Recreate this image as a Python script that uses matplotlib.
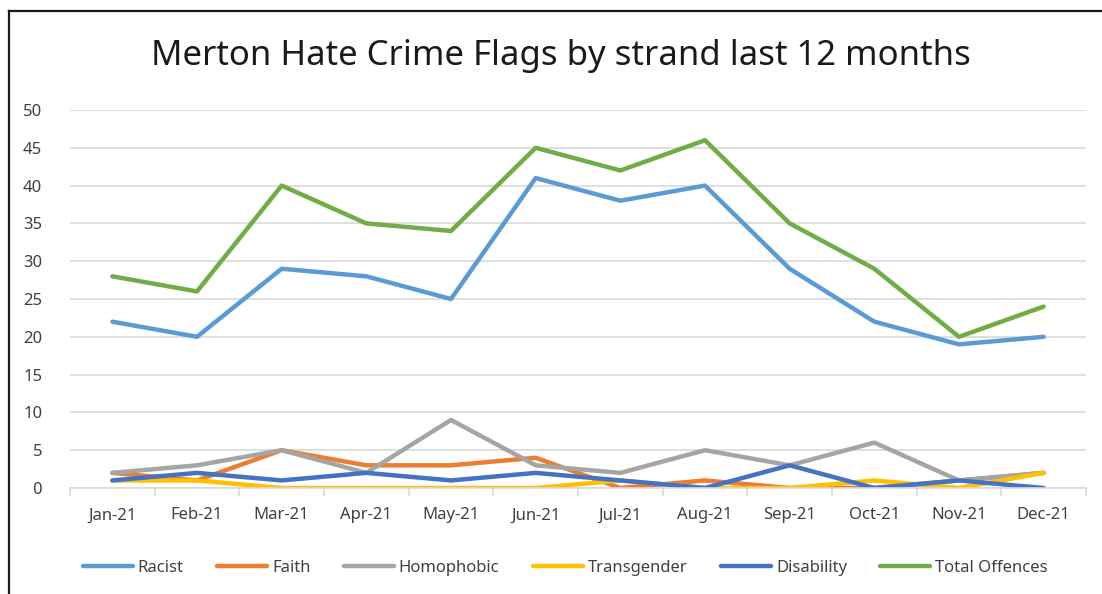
import matplotlib.pyplot as plt
from matplotlib.lines import Line2D

months = ['Jan-21', 'Feb-21', 'Mar-21', 'Apr-21', 'May-21', 'Jun-21',
          'Jul-21', 'Aug-21', 'Sep-21', 'Oct-21', 'Nov-21', 'Dec-21']
racist = [22, 20, 29, 28, 25, 41, 38, 40, 29, 22, 19, 20]
faith = [2, 1, 5, 3, 3, 4, 0, 1, 0, 0, 1, 2]
homophobic = [2, 3, 5, 2, 9, 3, 2, 5, 3, 6, 1, 2]
transgender = [1, 1, 0, 0, 0, 0, 1, 0, 0, 1, 0, 2]
disability = [1, 2, 1, 2, 1, 2, 1, 0, 3, 0, 1, 0]
total = [28, 26, 40, 35, 34, 45, 42, 46, 35, 29, 20, 24]

plt.rcParams['font.family'] = ['Noto Sans', 'DejaVu Sans']

fig = plt.figure(figsize=(11.02, 5.94), dpi=100)
ax = fig.add_axes([70 / 1102, 106 / 594, 1016 / 1102, 378 / 594])

x = range(len(months))
lw = 3.2
ax.plot(x, racist, color='#5b9bd5', lw=lw, label='Racist', solid_capstyle='round')
ax.plot(x, faith, color='#ed7d31', lw=lw, label='Faith', solid_capstyle='round')
ax.plot(x, homophobic, color='#a5a5a5', lw=lw, label='Homophobic', solid_capstyle='round')
ax.plot(x, transgender, color='#ffc000', lw=lw, label='Transgender', solid_capstyle='round')
ax.plot(x, disability, color='#4472c4', lw=lw, label='Disability', solid_capstyle='round')
ax.plot(x, total, color='#70ad47', lw=lw, label='Total Offences', solid_capstyle='round')

ax.set_xlim(-0.5, 11.5)
ax.set_ylim(0, 50)
ax.set_yticks(range(0, 51, 5))
ax.set_xticks(list(x))
ax.set_xticklabels(months)
ax.grid(axis='y', color='#d9d9d9', lw=1.2)
ax.set_axisbelow(True)
for s in ['top', 'right', 'left']:
    ax.spines[s].set_visible(False)
ax.spines['bottom'].set_color('#d9d9d9')
ax.spines['bottom'].set_linewidth(1.2)
ax.tick_params(axis='y', length=0, labelsize=12, colors='#404040', pad=20)
ax.tick_params(axis='x', which='major', length=0, labelsize=12, labelcolor='#404040', pad=14)
ax.set_xticks([i + 0.5 for i in range(-1, 12)], minor=True)
ax.tick_params(axis='x', which='minor', length=6, width=1.2, color='#d9d9d9')

fig.text(0.509, 0.905, 'Merton Hate Crime Flags by strand last 12 months',
         ha='center', va='center', fontsize=25, color='#1a1a1a')

fig.legend(loc='center', bbox_to_anchor=(0.513, 0.044), ncol=6, frameon=False,
           fontsize=12, handlelength=3.0, handletextpad=0.3, columnspacing=2.0,
           labelcolor='#404040')

fig.add_artist(Line2D([9 / 1102, 9 / 1102], [0, 583 / 594], transform=fig.transFigure,
                      color='#1a1a1a', lw=1.6))
fig.add_artist(Line2D([9 / 1102, 1], [583 / 594, 583 / 594], transform=fig.transFigure,
                      color='#1a1a1a', lw=1.6))

fig.savefig('out.png', dpi=100)
